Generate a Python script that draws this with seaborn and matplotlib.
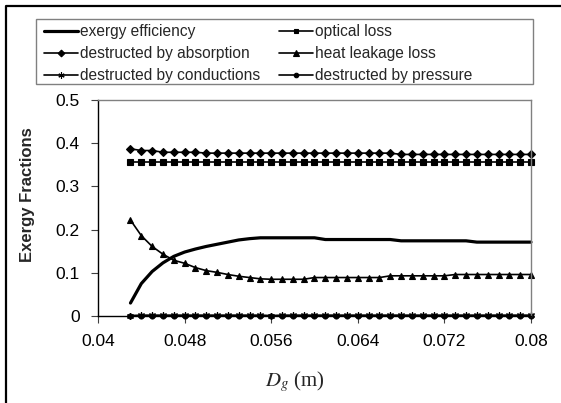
import matplotlib
matplotlib.use("Agg")
import matplotlib.pyplot as plt
from matplotlib.lines import Line2D
from matplotlib.patches import Rectangle
import seaborn as sns
import pandas as pd

sns.set_style("ticks")
plt.rcParams["font.family"] = ["Liberation Sans", "DejaVu Sans"]
plt.rcParams["mathtext.fontset"] = "stix"

# Glass envelope diameter (m)
d_g = [0.043, 0.044, 0.045, 0.046, 0.047, 0.048, 0.049, 0.050, 0.051, 0.052,
       0.053, 0.054, 0.055, 0.056, 0.057, 0.058, 0.059, 0.060, 0.061, 0.062,
       0.063, 0.064, 0.065, 0.066, 0.067, 0.068, 0.069, 0.070, 0.071, 0.072,
       0.073, 0.074, 0.075, 0.076, 0.077, 0.078, 0.079, 0.080]

exergy_efficiency = [0.030, 0.075, 0.103, 0.123, 0.138, 0.148, 0.155, 0.161, 0.166, 0.171,
                     0.176, 0.179, 0.181, 0.181, 0.181, 0.181, 0.181, 0.181, 0.177, 0.177,
                     0.177, 0.177, 0.177, 0.177, 0.177, 0.174, 0.174, 0.174, 0.174, 0.174,
                     0.174, 0.174, 0.171, 0.171, 0.171, 0.171, 0.171, 0.171]

optical_loss = [0.357] * 38

destructed_absorption = [0.387, 0.383, 0.383, 0.379, 0.379, 0.379, 0.379, 0.377, 0.377, 0.377,
                         0.377, 0.377, 0.377, 0.377, 0.377, 0.377, 0.377, 0.377, 0.377, 0.377,
                         0.377, 0.377, 0.377, 0.377, 0.377, 0.374, 0.374, 0.374, 0.374, 0.374,
                         0.374, 0.374, 0.374, 0.374, 0.374, 0.374, 0.374, 0.374]

heat_leakage_loss = [0.222, 0.186, 0.161, 0.143, 0.129, 0.122, 0.112, 0.105, 0.101, 0.096,
                     0.092, 0.089, 0.086, 0.085, 0.085, 0.085, 0.085, 0.089, 0.089, 0.089,
                     0.089, 0.089, 0.089, 0.089, 0.093, 0.093, 0.093, 0.093, 0.093, 0.093,
                     0.096, 0.096, 0.096, 0.096, 0.096, 0.096, 0.096, 0.096]

destructed_conduction = [0.001, 0.002, 0.002, 0.002, 0.002, 0.002, 0.002, 0.002, 0.002, 0.002,
                         0.002, 0.002, 0.002, 0.001, 0.002, 0.002, 0.002, 0.002, 0.002, 0.002,
                         0.002, 0.002, 0.002, 0.002, 0.002, 0.002, 0.002, 0.002, 0.002, 0.002,
                         0.002, 0.002, 0.002, 0.002, 0.002, 0.002, 0.002, 0.002]

destructed_pressure = [0.001] * 38

x_ticks = [0.04, 0.048, 0.056, 0.064, 0.072, 0.08]
x_tick_labels = ["0.04", "0.048", "0.056", "0.064", "0.072", "0.08"]
y_ticks = [0, 0.1, 0.2, 0.3, 0.4, 0.5]
y_tick_labels = ["0", "0.1", "0.2", "0.3", "0.4", "0.5"]

series = [
    ("exergy efficiency", exergy_efficiency, None, 2.3, 0),
    ("optical loss", optical_loss, "s", 1.2, 3.8),
    ("destructed by absorption", destructed_absorption, "D", 1.2, 3.8),
    ("heat leakage loss", heat_leakage_loss, "^", 1.2, 4.6),
    ("destructed by conductions", destructed_conduction, (6, 2, 0), 1.2, 5.0),
    ("destructed by pressure", destructed_pressure, "o", 1.2, 3.6),
]

fig = plt.figure(figsize=(5.61, 4.03), dpi=100)
ax = fig.add_axes([0.1747, 0.2159, 0.7718, 0.5360])

handles = []
for name, vals, mk, lw, ms in series:
    df = pd.DataFrame({"Dg": d_g, "value": vals})
    sns.lineplot(data=df, x="Dg", y="value", ax=ax, color="black", linewidth=lw,
                 marker=mk if mk is not None else "", markersize=ms,
                 markeredgecolor="black", markeredgewidth=0.8, legend=False, clip_on=False)
    handles.append(Line2D([0], [0], color="black", linewidth=lw,
                          marker=mk if mk is not None else "", markersize=ms * 0.9,
                          markeredgecolor="black", markeredgewidth=0.8, label=name))

ax.set_xlim(0.04, 0.08)
ax.set_ylim(0, 0.5)
ax.set_xticks(x_ticks)
ax.set_xticklabels(x_tick_labels)
ax.set_yticks(y_ticks)
ax.set_yticklabels(y_tick_labels)
ax.tick_params(axis="both", direction="out", length=5, width=0.8, color="#404040",
               labelsize=12.5, colors="black")
ax.tick_params(axis="x", pad=8)
ax.tick_params(axis="y", pad=8)

for side in ["left", "bottom"]:
    ax.spines[side].set_color("black")
    ax.spines[side].set_linewidth(1.0)
for side in ["top", "right"]:
    ax.spines[side].set_visible(True)
    ax.spines[side].set_color("#808080")
    ax.spines[side].set_linewidth(1.0)

ax.set_ylabel("Exergy Fractions", fontsize=12, fontweight="bold")
ax.yaxis.set_label_coords(-0.146, 0.56)
ax.set_xlabel(r"$D_g$ (m)", fontsize=15, family="Liberation Serif")
ax.xaxis.set_label_coords(0.455, -0.245)

# legend, drawn without its own frame; the box is a separate rectangle
order = [0, 2, 4, 1, 3, 5]
leg = fig.legend([handles[i] for i in order], [series[i][0] for i in order],
                 loc="upper left", bbox_to_anchor=(41 / 561, 1 - 21 / 403),
                 ncol=2, frameon=False, fontsize=11.2, handlelength=2.2,
                 handletextpad=0.12, columnspacing=1.2, labelspacing=0.45,
                 borderpad=0.2, borderaxespad=0)
fig.patches.append(Rectangle((36 / 561, 1 - 84 / 403), 497 / 561, 65 / 403,
                             transform=fig.transFigure, fill=False,
                             edgecolor="#808080", linewidth=1.0))

# outer chart frame (left and top edges)
fig.add_artist(Line2D([6 / 561, 6 / 561, 1.0], [0.0, 1 - 6 / 403, 1 - 6 / 403],
                      transform=fig.transFigure, color="black", linewidth=1.6))

fig.savefig("out.png", dpi=100)
